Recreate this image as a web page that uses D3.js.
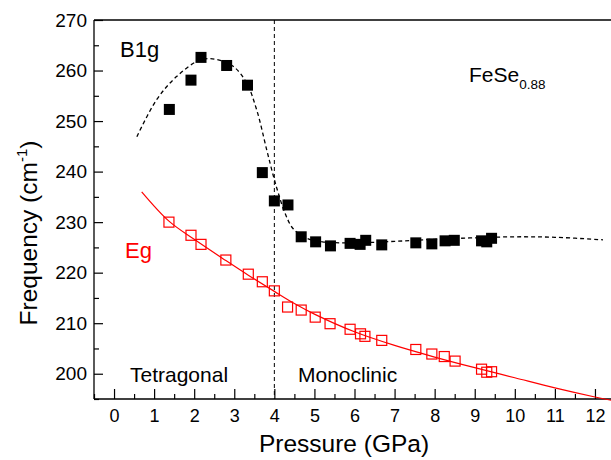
<!DOCTYPE html>
<html><head><meta charset="utf-8">
<script src="https://cdn.jsdelivr.net/npm/d3@7"></script>
<style>
body{margin:0;background:#fff;}
svg{display:block;font-family:"Liberation Sans",Arial,sans-serif;}
</style></head>
<body><svg id="c" width="611" height="460"></svg>
<script>
// B1g measured points (pressure GPa, frequency cm^-1)
const b1gP = [1.38,1.92,2.17,2.81,3.33,3.70,4.00,4.34,4.67,5.03,5.40,5.89,6.14,6.28,6.68,7.53,7.93,8.26,8.49,9.17,9.30,9.42];
const b1gF = [252.3,258.1,262.6,261.0,257.1,239.8,234.2,233.4,227.1,226.1,225.3,225.8,225.6,226.4,225.5,225.9,225.7,226.3,226.4,226.3,226.1,226.8];
// B1g guide curve (dashed)
const b1gCurveP = [0.57,1.06,1.56,2.15,2.56,2.98,3.31,3.56,3.81,3.98,4.10,4.27,4.47,4.81,5.2,6.0,7.0,8.0,9.0,10.0,11.0,12.2];
const b1gCurveF = [246.9,254.2,258.8,262.1,262.2,260.8,257.5,252.2,244.3,239.0,235.7,231.7,228.7,226.8,226.1,225.9,226.2,226.6,226.9,227.1,227.0,226.5];
// Eg measured points
const egP = [1.37,1.92,2.17,2.79,3.35,3.70,4.00,4.33,4.67,5.02,5.39,5.89,6.15,6.26,6.68,7.53,7.93,8.24,8.51,9.17,9.30,9.42];
const egF = [230.0,227.4,225.6,222.5,219.7,218.2,216.4,213.2,212.6,211.2,209.9,208.8,207.9,207.4,206.6,204.8,203.9,203.4,202.5,200.9,200.3,200.4];
// Eg fit curve
const egCurveP = [0.69,1.37,2.0,2.79,3.35,4.0,4.5,5.0,6.0,7.0,8.0,9.0,10.0,11.0,12.0,12.5];
const egCurveF = [236.0,230.2,226.6,222.4,219.5,216.3,213.9,211.8,208.3,205.6,203.3,201.2,199.2,197.2,195.4,194.6];
const xTicks = [0,1,2,3,4,5,6,7,8,9,10,11,12];
const yTicks = [200,210,220,230,240,250,260,270];
const transitionP = 4;

const svg = d3.select("#c");
const L = 94, T = 20, R = 615, B = 399;
const x = d3.scaleLinear().domain([-0.5,12.5]).range([L,R]);
const y = d3.scaleLinear().domain([195,270]).range([B,T]);

// frame
svg.append("line").attr("x1",L).attr("x2",R+5).attr("y1",T).attr("y2",T).attr("stroke","#000").attr("stroke-width",1.3);
svg.append("line").attr("x1",L).attr("x2",L).attr("y1",T).attr("y2",B).attr("stroke","#000").attr("stroke-width",1.3);
svg.append("line").attr("x1",L).attr("x2",R+5).attr("y1",B).attr("y2",B).attr("stroke","#000").attr("stroke-width",1.3);

// x axis (ticks inward)
const xMinor = d3.range(-0.5,12.6,0.5).filter(v=>Math.abs(v-Math.round(v))>0.01);
const xg = svg.append("g").attr("transform",`translate(0,${B})`);
xg.call(d3.axisBottom(x).tickValues(xTicks).tickSize(-10).tickPadding(10).tickFormat(d3.format("d")));
xg.append("g").call(d3.axisBottom(x).tickValues(xMinor).tickSize(-5).tickFormat(""));
xg.selectAll(".domain").remove();
xg.selectAll("line").attr("stroke","#000").attr("stroke-width",1.2);
xg.selectAll("text").attr("font-size",18).attr("fill","#000").attr("font-family","Liberation Sans, Arial, sans-serif");

// y axis (ticks inward)
const yMinor = d3.range(195,270,10);
const yg = svg.append("g").attr("transform",`translate(${L},0)`);
yg.call(d3.axisLeft(y).tickValues(yTicks).tickSize(-9).tickPadding(7).tickFormat(d3.format("d")));
yg.append("g").call(d3.axisLeft(y).tickValues(yMinor).tickSize(-5).tickFormat(""));
yg.selectAll(".domain").remove();
yg.selectAll("line").attr("stroke","#000").attr("stroke-width",1.2);
yg.selectAll("text").attr("font-size",19).attr("fill","#000").attr("font-family","Liberation Sans, Arial, sans-serif");

// transition dashed line
svg.append("line").attr("x1",x(transitionP)).attr("x2",x(transitionP)).attr("y1",T).attr("y2",B)
  .attr("stroke","#000").attr("stroke-width",1).attr("stroke-dasharray","4,3");

const line = d3.line().x(d=>x(d[0])).y(d=>y(d[1])).curve(d3.curveCatmullRom.alpha(0.5));

// B1g dashed curve
svg.append("path").datum(b1gCurveP.map((p,i)=>[p,b1gCurveF[i]])).attr("d",line)
  .attr("fill","none").attr("stroke","#000").attr("stroke-width",1.3).attr("stroke-dasharray","4,3");
// Eg red curve
svg.append("path").datum(egCurveP.map((p,i)=>[p,egCurveF[i]])).attr("d",line)
  .attr("fill","none").attr("stroke","#ff0000").attr("stroke-width",1.2);

const s = 11;
svg.append("g").selectAll("rect").data(b1gP.map((p,i)=>[p,b1gF[i]])).join("rect")
  .attr("x",d=>x(d[0])-s/2).attr("y",d=>y(d[1])-s/2).attr("width",s).attr("height",s)
  .attr("fill","#000");
const s2 = 11;
svg.append("g").selectAll("rect").data(egP.map((p,i)=>[p,egF[i]])).join("rect")
  .attr("x",d=>x(d[0])-s2/2+0.5).attr("y",d=>y(d[1])-s2/2+0.5).attr("width",s2-1).attr("height",s2-1)
  .attr("fill","none").attr("stroke","#ff0000").attr("stroke-width",1.2);

// labels
svg.append("text").attr("x",120).attr("y",57).attr("font-size",22).text("B1g");
svg.append("text").attr("x",125).attr("y",258).attr("font-size",22).attr("fill","#ff0000").text("Eg");
const fe = svg.append("text").attr("x",469).attr("y",82).attr("font-size",21);
fe.append("tspan").text("FeSe");
fe.append("tspan").attr("font-size",13.5).attr("dy",7).text("0.88");
svg.append("text").attr("x",130).attr("y",382).attr("font-size",21).text("Tetragonal");
svg.append("text").attr("x",298).attr("y",382).attr("font-size",21).text("Monoclinic");

svg.append("text").attr("x",344).attr("y",452).attr("text-anchor","middle").attr("font-size",24.5).text("Pressure (GPa)");
const yl = svg.append("text").attr("transform","translate(37,233) rotate(-90)").attr("text-anchor","middle").attr("font-size",24.5);
yl.append("tspan").text("Frequency (cm");
yl.append("tspan").attr("font-size",15).attr("dy",-10).text("-1");
yl.append("tspan").attr("dy",10).text(")");
</script></body></html>
